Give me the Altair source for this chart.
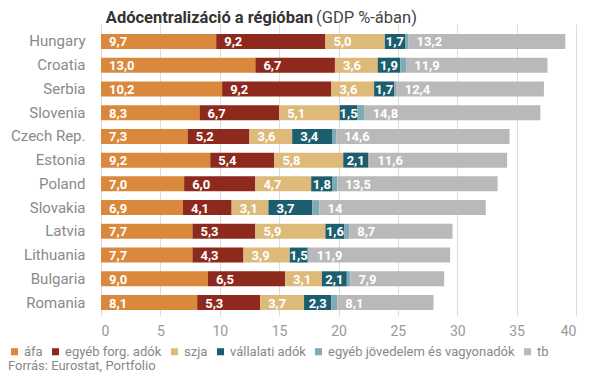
import altair as alt
import pandas as pd

countries = ["Hungary", "Croatia", "Serbia", "Slovenia", "Czech Rep.", "Estonia",
             "Poland", "Slovakia", "Latvia", "Lithuania", "Bulgaria", "Romania"]
series = ["áfa", "egyéb forg. adók", "szja", "vállalati adók",
          "egyéb jövedelem és vagyonadók", "tb"]
afa = [9.7, 13.0, 10.2, 8.3, 7.3, 9.2, 7.0, 6.9, 7.7, 7.7, 9.0, 8.1]
egyeb_forg = [9.2, 6.7, 9.2, 6.7, 5.2, 5.4, 6.0, 4.1, 5.3, 4.3, 6.5, 5.3]
szja = [5.0, 3.6, 3.6, 5.1, 3.6, 5.8, 4.7, 3.1, 5.9, 3.9, 3.1, 3.7]
vallalati = [1.7, 1.9, 1.7, 1.5, 3.4, 2.1, 1.8, 3.7, 1.6, 1.5, 2.1, 2.3]
egyeb_jov = [0.3, 0.5, 0.2, 0.6, 0.3, 0.1, 0.4, 0.6, 0.4, 0.1, 0.3, 0.5]
tb = [13.2, 11.9, 12.4, 14.8, 14.6, 11.6, 13.5, 14, 8.7, 11.9, 7.9, 8.1]
colors = ["#DA883C", "#8E2A1D", "#DDBA79", "#1C5E6E", "#7FAAB8", "#B9B9B9"]
x_ticks = [0, 5, 10, 15, 20, 25, 30, 35, 40]

title_bold = "Adócentralizáció a régióban"
title_reg = "(GDP %-ában)"
source = "Forrás: Eurostat, Portfolio"

FONT = "Roboto"
all_vals = [afa, egyeb_forg, szja, vallalati, egyeb_jov, tb]

rows = []
for ci, c in enumerate(countries):
    cum = 0.0
    for si, s in enumerate(series):
        v = all_vals[si][ci]
        lab = str(v) if isinstance(v, int) else f"{v:.1f}".replace(".", ",")
        rows.append({"country": c, "series": s, "order": si, "value": v,
                     "start": cum, "end": cum + v,
                     "label": "" if si == 4 else lab})
        cum += v
df = pd.DataFrame(rows)

yscale = alt.Scale(domain=countries, paddingInner=0.368, paddingOuter=0.336, align=0.625)
xscale = alt.Scale(domain=[0, 40], nice=False)

bars = alt.Chart(df).mark_bar().encode(
    x=alt.X("start:Q", scale=xscale,
            axis=alt.Axis(values=x_ticks, title=None, domain=False, ticks=False,
                          grid=True, gridColor="#dcdcdc", labelFont=FONT,
                          labelFontSize=14, labelColor="#999999", labelPadding=8)),
    x2="end:Q",
    y=alt.Y("country:N", scale=yscale,
            axis=alt.Axis(title=None, domain=False, ticks=False, labelFont=FONT,
                          labelFontSize=15, labelColor="#8a8a8a", labelPadding=16)),
    color=alt.Color("series:N",
                    scale=alt.Scale(domain=series, range=colors),
                    legend=alt.Legend(title=None, orient="none", direction="horizontal",
                                      columns=6, legendX=-93, legendY=321,
                                      symbolType="square", symbolSize=50,
                                      symbolStrokeWidth=0, labelFont=FONT,
                                      labelFontSize=13, labelColor="#888888",
                                      labelLimit=400,
                                      columnPadding=6, labelOffset=3,
                                      symbolOffset=0, padding=0)),
    order="order:Q",
)

labels_wide = alt.Chart(df).transform_filter(
    "datum.value >= 3"
).mark_text(
    align="left", baseline="middle", dx=8, dy=1, color="white",
    font=FONT, fontSize=13, fontWeight="bold"
).encode(
    x=alt.X("start:Q", scale=xscale),
    y=alt.Y("country:N", scale=yscale),
    text="label:N",
)

labels_narrow = alt.Chart(df).transform_filter(
    "datum.value < 3"
).transform_calculate(
    mid="(datum.start + datum.end) / 2"
).mark_text(
    align="center", baseline="middle", dy=1, color="white",
    font=FONT, fontSize=13, fontWeight="bold"
).encode(
    x=alt.X("mid:Q", scale=xscale),
    y=alt.Y("country:N", scale=yscale),
    text="label:N",
)

t1 = alt.Chart(pd.DataFrame({"t": [title_bold]})).mark_text(
    align="right", baseline="alphabetic", font=FONT, fontSize=16.5, fontWeight="bold",
    color="#333333"
).encode(x=alt.value(212), y=alt.value(-1), text="t:N")

t2 = alt.Chart(pd.DataFrame({"t": [title_reg]})).mark_text(
    align="left", baseline="alphabetic", font=FONT, fontSize=16.5, color="#444444"
).encode(x=alt.value(215), y=alt.value(-1), text="t:N")

foot = alt.Chart(pd.DataFrame({"t": [source]})).mark_text(
    align="left", baseline="middle", font=FONT, fontSize=13, color="#888888"
).encode(x=alt.value(-93), y=alt.value(342), text="t:N")

chart = alt.layer(bars, labels_wide, labels_narrow, t1, t2, foot).properties(
    width=475, height=292,
    padding={"left": 93, "top": 16, "right": 21, "bottom": 58},
    autosize=alt.AutoSizeParams(type="none"),
).configure_view(stroke=None)

chart.save("out.html", embed_options={"renderer": "svg", "actions": False})
